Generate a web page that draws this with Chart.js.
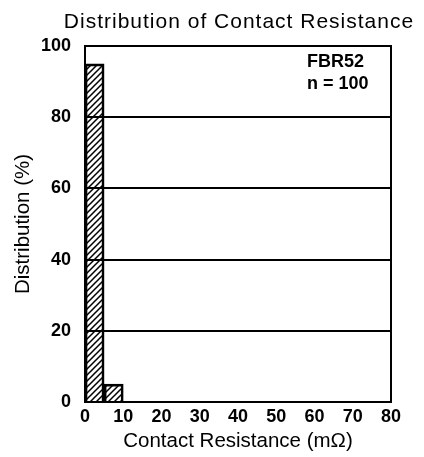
<!DOCTYPE html>
<html>
<head>
<meta charset="utf-8">
<script src="https://cdn.jsdelivr.net/npm/chart.js@4"></script>
<style>
  html, body { margin: 0; padding: 0; background: #fff; }
  #wrap { width: 424px; height: 457px; }
</style>
</head>
<body>
<div id="wrap"><canvas id="chart" width="424" height="457"></canvas></div>
<script>
// histogram bins (mOhm) and share of samples (%)
const binStarts = [0, 5];
const binEnds = [5, 10];
const distribution = [95, 5];
const xTicks = [0, 10, 20, 30, 40, 50, 60, 70, 80];
const yTicks = [0, 20, 40, 60, 80, 100];
const chartTitle = 'Distribution of Contact Resistance';
const noteLines = ['FBR52', 'n = 100'];

const FONT = '"Liberation Sans", Arial, Helvetica, sans-serif';

// diagonal hatch fill, transparent so grid lines show through
function hatchPattern() {
    const s = 6;
    const c = document.createElement('canvas');
    c.width = s;
    c.height = s;
    const g = c.getContext('2d');
    g.strokeStyle = '#000';
    g.lineWidth = 1.5;
    g.beginPath();
    g.moveTo(0, s); g.lineTo(s, 0);
    g.moveTo(-s / 2, s / 2); g.lineTo(s / 2, -s / 2);
    g.moveTo(s / 2, s * 1.5); g.lineTo(s * 1.5, s / 2);
    g.stroke();
    return g.createPattern(c, 'repeat');
}

// frame round the plot, title (set a bit wider than the layout allows) and the sample note
const frame = {
    id: 'frame',
    afterDatasetsDraw(chart) {
        const { ctx, chartArea: a } = chart;
        ctx.save();
        ctx.strokeStyle = '#000';
        ctx.lineWidth = 2;
        ctx.strokeRect(a.left, a.top, a.right - a.left, a.bottom - a.top);

        ctx.fillStyle = '#000';
        ctx.textBaseline = 'middle';
        ctx.textAlign = 'center';
        ctx.font = '21px ' + FONT;
        ctx.letterSpacing = '1px';
        ctx.fillText(chartTitle, 239, 22);
        ctx.letterSpacing = '0px';

        ctx.font = 'bold 18px ' + FONT;
        ctx.textAlign = 'left';
        noteLines.forEach((t, i) => ctx.fillText(t, 307, 62 + i * 22));
        ctx.restore();
    }
};

const ctx = document.getElementById('chart');
new Chart(ctx, {
    type: 'bar',
    data: {
        datasets: [{
            data: distribution.map((v, i) => ({ x: (binStarts[i] + binEnds[i]) / 2, y: v })),
            backgroundColor: hatchPattern(),
            borderColor: '#000',
            borderWidth: 2,
            barPercentage: 1,
            categoryPercentage: 1
        }]
    },
    options: {
        responsive: false,
        animation: false,
        layout: { padding: { left: 0, right: 33, top: 46, bottom: 0 } },
        plugins: {
            legend: { display: false },
            tooltip: { enabled: false },
            title: { display: false }
        },
        scales: {
            x: {
                type: 'linear',
                min: 0,
                max: 80,
                offset: false,
                afterBuildTicks: (s) => { s.ticks = xTicks.map(v => ({ value: v })); },
                afterFit: (s) => { s.height = 55; },
                ticks: {
                    color: '#000',
                    padding: 4,
                    font: { family: FONT, size: 18, weight: 'bold' }
                },
                grid: { display: false, drawTicks: false, offset: false },
                border: { display: false },
                title: {
                    display: true,
                    text: 'Contact Resistance (mΩ)',
                    color: '#000',
                    padding: { top: 0, bottom: 3 },
                    font: { family: FONT, size: 20.5, weight: 'normal' }
                }
            },
            y: {
                min: 0,
                max: 100,
                afterBuildTicks: (s) => { s.ticks = yTicks.map(v => ({ value: v })); },
                afterFit: (s) => { s.width = 85; },
                ticks: {
                    color: '#000',
                    padding: 14,
                    font: { family: FONT, size: 18, weight: 'bold' }
                },
                grid: { color: '#000', lineWidth: 2, drawTicks: false },
                border: { display: false },
                title: {
                    display: true,
                    text: 'Distribution (%)',
                    color: '#000',
                    padding: { top: 11, bottom: 0 },
                    font: { family: FONT, size: 20.5, weight: 'normal' }
                }
            }
        }
    },
    plugins: [frame]
});
</script>
</body>
</html>
